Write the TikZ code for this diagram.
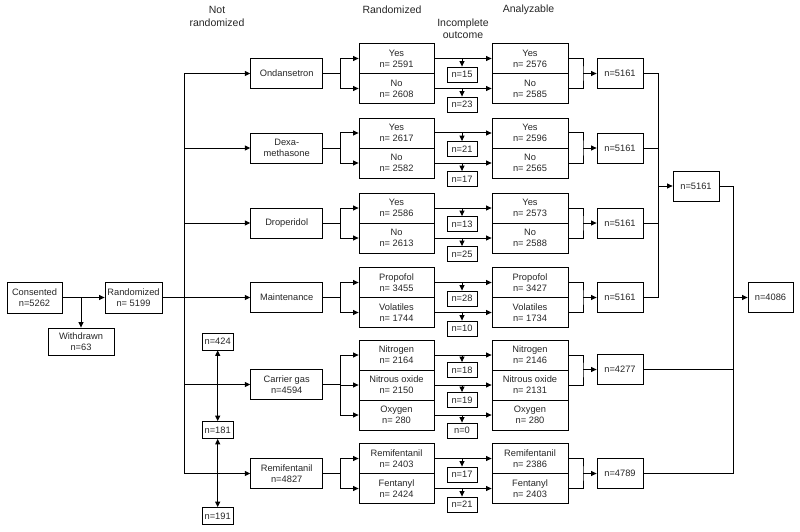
\documentclass[tikz,border=0pt]{standalone}
\usepackage{fontspec}
\setmainfont{Liberation Sans}
\usetikzlibrary{arrows.meta, positioning, calc}

\begin{document}
\begin{tikzpicture}[x=1pt, y=-1pt,
    every node/.style={font=\fontsize{9.3}{11.3}\selectfont, text=black!85},
    box/.style={draw, line width=0.8pt, align=center, inner sep=0pt, minimum height=30pt},
    trt/.style={box, minimum width=72pt},
    sub/.style={box, minimum width=75pt},
    tot/.style={box, minimum width=46pt},
    inc/.style={draw, line width=0.8pt, inner sep=0pt, minimum width=30pt, minimum height=15pt},
    nr/.style={draw, line width=0.8pt, inner sep=0pt, minimum width=31pt, minimum height=17pt},
    head/.style={align=center, font=\fontsize{10.5}{12.3}\selectfont},
    link/.style={line width=1pt},
    arr/.style={link, -{Triangle[length=5.5pt,width=5pt]}},
    arrb/.style={link, {Triangle[length=5.5pt,width=5pt]}-{Triangle[length=5.5pt,width=5pt]}},
]
  \useasboundingbox (0,0) rectangle (800,532);

  % Column headings
  \node[head] (hnr) at (217,16.5) {Not\\randomized};
  \node[head] (hra) at (392,10) {Randomized};
  \node[head] (hin) at (463,29) {Incomplete\\outcome};
  \node[head] (han) at (528.5,10) {Analyzable};

  % Enrolment
  \node[box, minimum width=55pt, minimum height=31pt] (cons) at (34.5,297.5) {Consented\\n=5262};
  \node[box, minimum width=57pt, minimum height=31pt] (rand) at (133.5,297.5) {Randomized\\n= 5199};
  \node[box, minimum width=66pt, minimum height=27pt] (wdraw) at (81,341.5) {Withdrawn\\n=63};
  \draw[arr] (cons) -- (rand);
  \draw[arr] (wdraw |- cons) -- (wdraw);

  % Not randomized
  \node[nr] (n424) at (217.7,341.5) {n=424};
  \node[nr] (n181) at (217.7,430) {n=181};
  \node[nr] (n191) at (217.7,516) {n=191};
  \draw[arrb] (n424) -- (n181);
  \draw[arrb] (n181) -- (n191);

  % Factors with two arms
  \foreach \nm/\y/\lab/\ta/\tb/\ra/\rb/\ia/\ib/\aa/\ab/\tt in {
      ond/73.5/Ondansetron/Yes/No/2591/2608/15/23/2576/2585/5161,
      dex/148/{Dexa-\\methasone}/Yes/No/2617/2582/21/17/2596/2565/5161,
      dro/223/Droperidol/Yes/No/2586/2613/13/25/2573/2588/5161,
      mnt/297.5/Maintenance/Propofol/Volatiles/3455/1744/28/10/3427/1734/5161,
      rem/473.5/{Remifentanil\\n=4827}/Remifentanil/Fentanyl/2403/2424/17/21/2386/2403/4789} {
    \node[trt] (\nm) at (286.7,\y) {\lab};
    \node[sub] (\nm-r1) at (396.5,\y-15) {\ta\\n= \ra};
    \node[sub] (\nm-r2) at (396.5,\y+15) {\tb\\n= \rb};
    \node[inc] (\nm-i1) at (462,\y+1) {n=\ia};
    \node[inc] (\nm-i2) at (462,\y+31) {n=\ib};
    \node[sub, minimum width=76pt] (\nm-a1) at (530,\y-15) {\ta\\n= \aa};
    \node[sub, minimum width=76pt] (\nm-a2) at (530,\y+15) {\tb\\n= \ab};
    \node[tot] (\nm-t) at (620,\y) {n=\tt};
    \coordinate (\nm-s) at (340.7,\y);
    \coordinate (\nm-b) at (583,\y);
    \draw[link] (\nm) -- (\nm-s);
    \draw[arr] (\nm-s) |- (\nm-r1);
    \draw[arr] (\nm-s) |- (\nm-r2);
    \draw[arr] (\nm-r1) -- (\nm-a1);
    \draw[arr] (\nm-r2) -- (\nm-a2);
    \draw[arr] (\nm-i1 |- \nm-r1) -- (\nm-i1);
    \draw[arr] (\nm-i2 |- \nm-r2) -- (\nm-i2);
    \draw[link] (\nm-a1) -| (\nm-b) |- (\nm-a2);
    \draw[arr] (\nm-b) -- (\nm-t);
  }

  % Carrier gas, three arms
  \node[trt] (car) at (286.7,384.5) {Carrier gas\\n=4594};
  \node[sub] (car-r1) at (396.5,355) {Nitrogen\\n= 2164};
  \node[sub] (car-r2) at (396.5,385) {Nitrous oxide\\n= 2150};
  \node[sub] (car-r3) at (396.5,415) {Oxygen\\n= 280};
  \node[inc] (car-i1) at (462,370) {n=18};
  \node[inc] (car-i2) at (462,400) {n=19};
  \node[inc] (car-i3) at (462,430.5) {n=0};
  \node[sub, minimum width=76pt] (car-a1) at (530,355) {Nitrogen\\n= 2146};
  \node[sub, minimum width=76pt] (car-a2) at (530,385) {Nitrous oxide\\n= 2131};
  \node[sub, minimum width=76pt] (car-a3) at (530,415) {Oxygen\\n= 280};
  \node[tot] (car-t) at (620,369.5) {n=4277};
  \coordinate (car-s) at (340.7,384.5);
  \coordinate (car-b) at (583,369.5);
  \draw[link] (car) -- (car-s);
  \foreach \k in {1,2,3} {
    \draw[arr] (car-s) |- (car-r\k);
    \draw[arr] (car-r\k) -- (car-a\k);
    \draw[arr] (car-i\k |- car-r\k) -- (car-i\k);
  }
  \draw[link] (car-a1) -| (car-b) |- (car-a2);
  \draw[arr] (car-b) -- (car-t);

  % Allocation trunk
  \coordinate (jl) at (184,297.5);
  \draw[arr] (rand) -- (mnt);
  \foreach \t in {ond,dex,dro,car,rem}
    \draw[arr] (jl) |- (\t);

  % Totals
  \node[tot] (all) at (696,186) {n=5161};
  \node[tot, minimum width=45pt] (fin) at (770.5,297.5) {n=4086};
  \coordinate (jn) at (658,186);
  \coordinate (jf) at (733,297.5);
  \draw[link] (ond-t) -| (jn);
  \draw[link] (mnt-t) -| (jn);
  \draw[link] (dex-t) -- (dex-t -| jn);
  \draw[link] (dro-t) -- (dro-t -| jn);
  \draw[arr] (jn) -- (all);
  \draw[link] (all) -| (jf);
  \draw[link] (rem-t) -| (jf);
  \draw[link] (car-t) -- (car-t -| jf);
  \draw[arr] (jf) -- (fin);
\end{tikzpicture}
\end{document}
